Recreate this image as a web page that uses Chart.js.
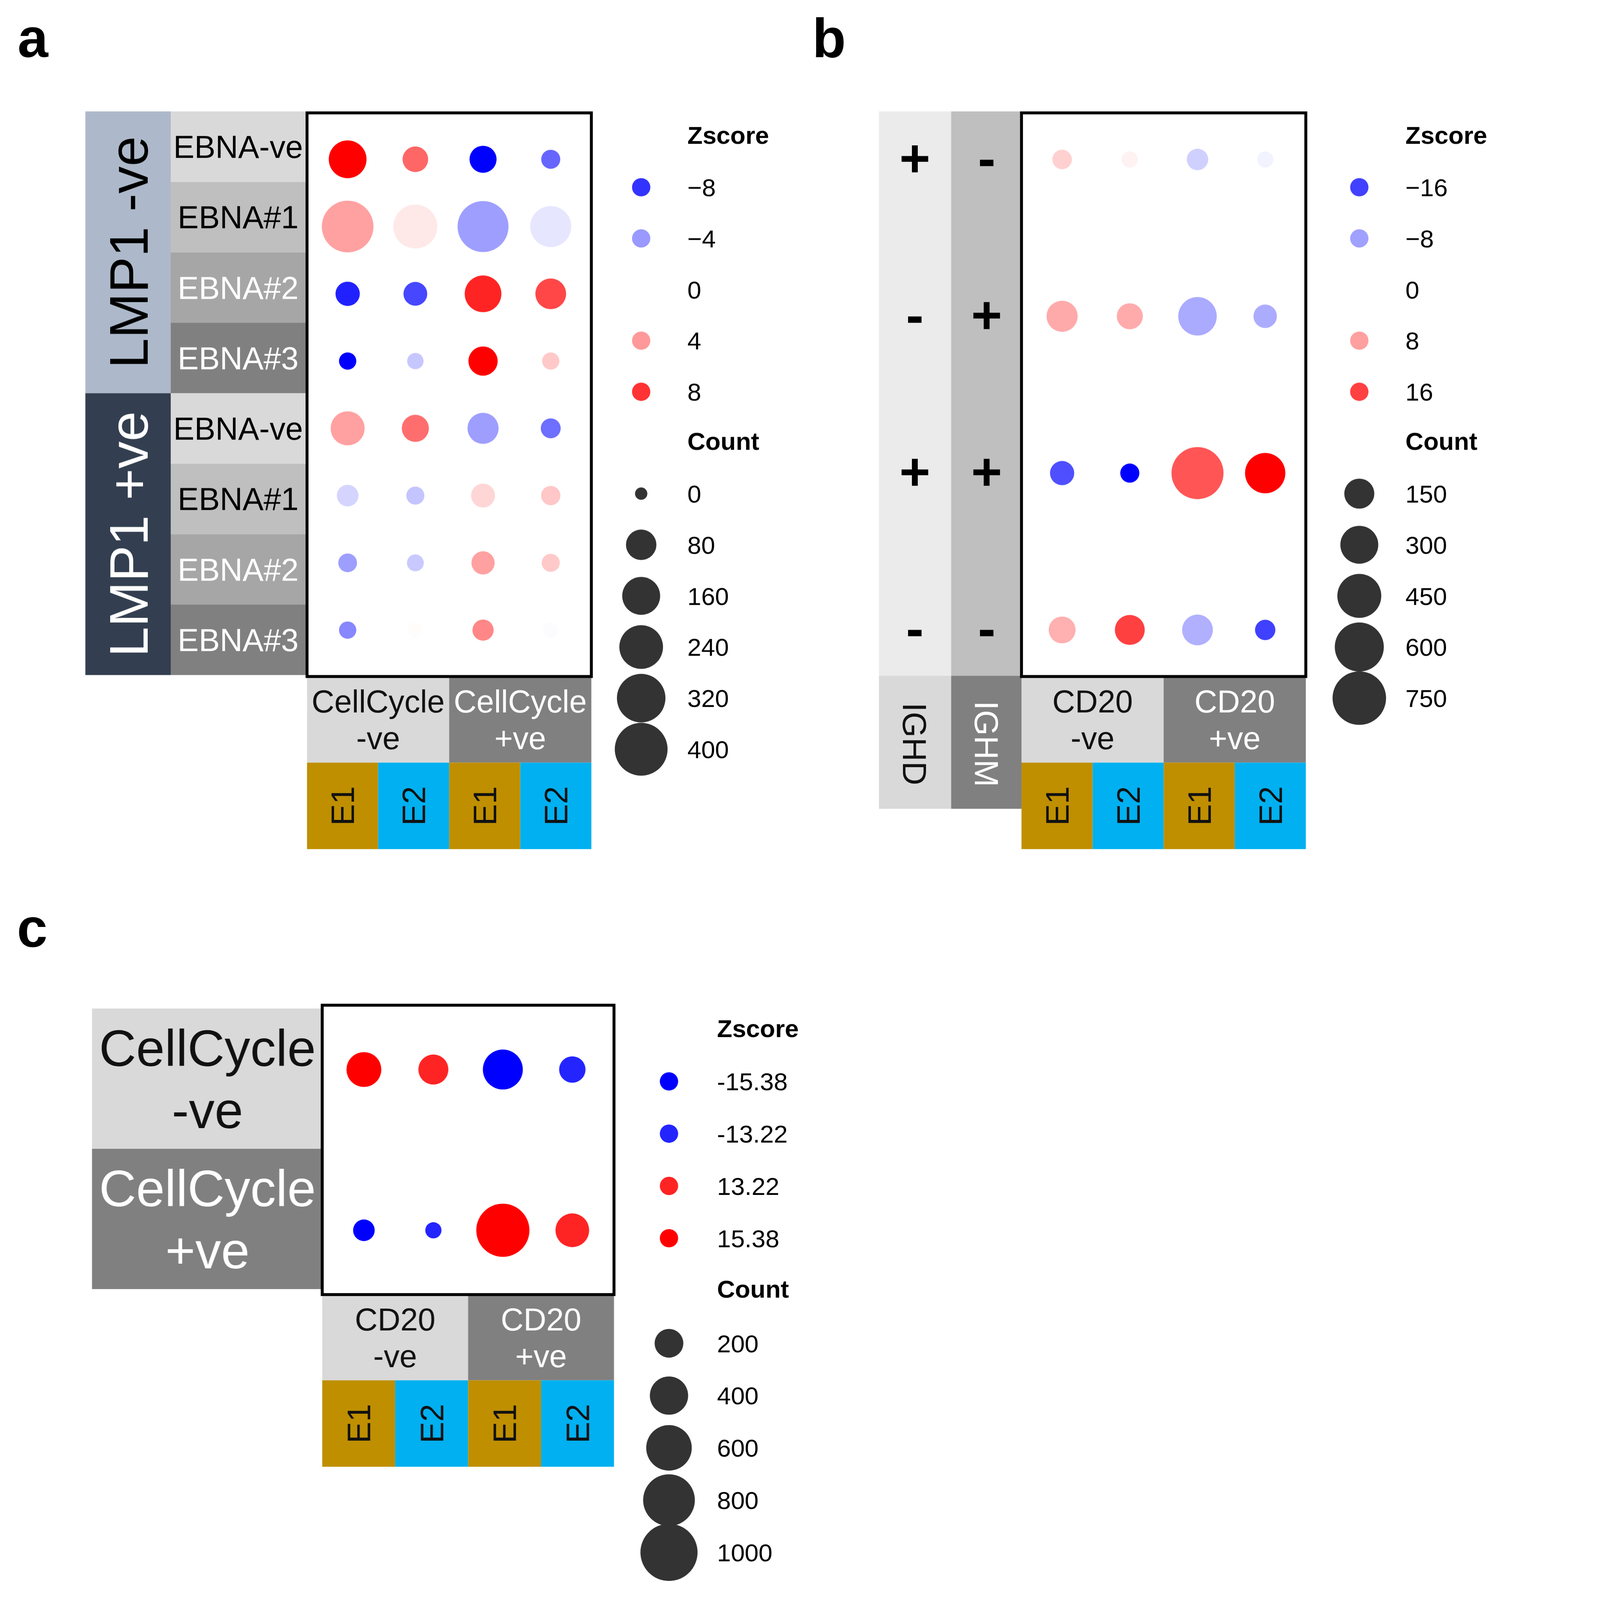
<!DOCTYPE html>
<html>
<head>
<meta charset="utf-8">
<script src="https://cdn.jsdelivr.net/npm/chart.js@4.4.0/dist/chart.umd.min.js"></script>
<style>
html, body { margin: 0; padding: 0; background: #fff; overflow: hidden; }
body { position: relative; width: 4095px; height: 4356px; }
canvas { position: absolute; }
</style>
</head>
<body>
<canvas id="chartA"></canvas>
<canvas id="chartB"></canvas>
<canvas id="chartC"></canvas>
<script>
// ---- panel a data ----
const aGroups = ['LMP1 -ve', 'LMP1 +ve'];
const aRows = ['EBNA-ve', 'EBNA#1', 'EBNA#2', 'EBNA#3', 'EBNA-ve', 'EBNA#1', 'EBNA#2', 'EBNA#3'];
const aColGroups = [['CellCycle', '-ve'], ['CellCycle', '+ve']];
const aCols = ['E1', 'E2', 'E1', 'E2'];
const aZscore = [
    [10.0, 6.0, -10.0, -6.0],
    [3.7, 0.9, -3.8, -1.0],
    [-8.7, -7.2, 8.6, 7.2],
    [-10.0, -2.2, 10.0, 2.1],
    [3.7, 5.7, -3.8, -5.7],
    [-1.7, -2.3, 1.6, 2.2],
    [-3.8, -2.1, 3.7, 2.1],
    [-4.7, 0.1, 4.7, -0.1]
];
const aCount = [
    [158, 43, 53, 11],
    [378, 244, 364, 201],
    [35, 32, 145, 83],
    [6, 4, 70, 6],
    [115, 53, 86, 14],
    [21, 8, 33, 12],
    [10, 5, 29, 8],
    [6, 2, 19, 2]
];
const aZBreaks = [-8, -4, 0, 4, 8];
const aZLabels = ['\u22128', '\u22124', '0', '4', '8'];
const aCountBreaks = [0, 80, 160, 240, 320, 400];

// ---- panel b data ----
const bIGHD = ['+', '-', '+', '-'];
const bIGHM = ['-', '+', '+', '-'];
const bColGroups = [['CD20', '-ve'], ['CD20', '+ve']];
const bCols = ['E1', 'E2', 'E1', 'E2'];
const bZscore = [
    [4.0, 1.1, -4.0, -1.0],
    [7.2, 7.1, -7.2, -7.0],
    [-14.8, -21.5, 14.3, 21.5],
    [6.7, 16.1, -6.7, -16.1]
];
const bCount = [
    [30, 11, 45, 11],
    [168, 93, 313, 64],
    [72, 27, 698, 356],
    [105, 148, 162, 36]
];
const bZBreaks = [-16, -8, 0, 8, 16];
const bZLabels = ['\u221216', '\u22128', '0', '8', '16'];
const bCountBreaks = [150, 300, 450, 600, 750];

// ---- panel c data ----
const cRows = [['CellCycle', '-ve'], ['CellCycle', '+ve']];
const cColGroups = [['CD20', '-ve'], ['CD20', '+ve']];
const cCols = ['E1', 'E2', 'E1', 'E2'];
const cZscore = [
    [15.38, 13.22, -15.38, -13.22],
    [-15.38, -13.22, 15.38, 13.22]
];
const cCount = [
    [320, 223, 443, 161],
    [95, 41, 851, 296]
];
const cZBreaks = [-15.38, -13.22, 13.22, 15.38];
const cZLabels = ['-15.38', '-13.22', '13.22', '15.38'];
const cCountBreaks = [200, 400, 600, 800, 1000];

// ---- styles ----
const FONT = '"Liberation Sans", Arial, Helvetica, sans-serif';
const INK = '#111111';
const groupFill = ['#d9d9d9', '#808080'];
const groupInk = [INK, '#ffffff'];
const eFill = ['#bf8f00', '#00b0f0'];
const rowFill = ['#d9d9d9', '#bfbfbf', '#a6a6a6', '#808080'];
const rowInk = ['#000000', '#000000', '#ffffff', '#ffffff'];
const lmpFill = ['#adb9ca', '#333f50'];
const lmpInk = ['#000000', '#ffffff'];

// layout is in 4095-wide design units; the photographed area is ~3840 css px wide
const S = 3840 / 4095;

function zColor(z, lim) {
    const t = Math.max(-1, Math.min(1, z / lim));
    if (t < 0) {
        const c = Math.round(255 * (1 + t));
        return `rgb(${c},${c},255)`;
    }
    const c = Math.round(255 * (1 - t));
    return `rgb(255,${c},${c})`;
}

function rect(ctx, x, y, w, h, fill) {
    ctx.fillStyle = fill;
    ctx.fillRect(x, y, w, h);
}

// text whose cap height is centred on (cx, cy)
function textAt(ctx, txt, cx, cy, size, color, opt = {}) {
    ctx.save();
    ctx.font = (opt.bold ? 'bold ' : '') + size + 'px ' + FONT;
    ctx.fillStyle = color;
    ctx.textAlign = opt.align || 'center';
    ctx.textBaseline = 'alphabetic';
    ctx.translate(cx, cy);
    if (opt.rot) ctx.rotate(opt.rot * Math.PI / 180);
    ctx.fillText(txt, 0, 0.716 * size / 2);
    ctx.restore();
}

function linesAt(ctx, lines, cx, cy, size, gap, color) {
    const n = lines.length;
    lines.forEach((ln, i) => textAt(ctx, ln, cx, cy + (i - (n - 1) / 2) * gap, size, color));
}

function drawBottom(ctx, chart, P, groups, cols, y0, y1, y2) {
    const sx = chart.scales.x;
    const xs = [0.4, 1.45, 2.5, 3.55, 4.6].map(v => sx.getPixelForValue(v) + P.ox);
    groups.forEach((g, k) => {
        const xa = xs[2 * k], xb = xs[2 * k + 2];
        rect(ctx, xa, y0, xb - xa, y1 - y0, groupFill[k]);
        linesAt(ctx, g, (xa + xb) / 2, (y0 + y1) / 2, 86, 100, groupInk[k]);
    });
    cols.forEach((c, j) => {
        rect(ctx, xs[j], y1, xs[j + 1] - xs[j], y2 - y1, eFill[j % 2]);
        textAt(ctx, c, (xs[j] + xs[j + 1]) / 2, (y1 + y2) / 2, 88, INK, {rot: -90});
    });
}

function drawLegend(ctx, P) {
    const L = P.legend;
    textAt(ctx, 'Zscore', L.textX, L.zTitle, 68, '#000', {bold: true, align: 'left'});
    P.zBreaks.forEach((b, i) => {
        const y = L.zY0 + i * L.step;
        ctx.fillStyle = zColor(b, P.zLim);
        ctx.beginPath();
        ctx.arc(L.dotX, y, 25, 0, Math.PI * 2);
        ctx.fill();
        textAt(ctx, P.zLabels[i], L.textX, y, 68, '#000', {align: 'left'});
    });
    textAt(ctx, 'Count', L.textX, L.cTitle, 68, '#000', {bold: true, align: 'left'});
    P.countBreaks.forEach((b, i) => {
        const y = L.cY0 + i * L.step;
        ctx.fillStyle = '#333333';
        ctx.beginPath();
        ctx.arc(L.dotX, y, P.size(b) / 2, 0, Math.PI * 2);
        ctx.fill();
        textAt(ctx, String(b), L.textX, y, 68, '#000', {align: 'left'});
    });
}

function buildChart(id, P) {
    const cv = document.getElementById(id);
    cv.width = P.w;
    cv.height = P.h;
    cv.style.left = (P.ox * S) + 'px';
    cv.style.top = (P.oy * S) + 'px';
    cv.style.width = (P.w * S) + 'px';
    cv.style.height = (P.h * S) + 'px';

    const pts = [];
    const colors = [];
    P.z.forEach((row, i) => row.forEach((z, j) => {
        pts.push({x: j + 1, y: i + 1, r: P.size(P.count[i][j]) / 2});
        colors.push(zColor(z, P.zLim));
    }));

    return new Chart(cv, {
        type: 'bubble',
        data: {
            datasets: [{
                data: pts,
                backgroundColor: colors,
                borderWidth: 0,
                hoverRadius: 0,
                hoverBorderWidth: 0
            }]
        },
        options: {
            responsive: false,
            animation: false,
            devicePixelRatio: S,
            events: [],
            layout: {
                padding: {
                    left: P.box.l - P.ox,
                    top: P.box.t - P.oy,
                    right: P.ox + P.w - P.box.r,
                    bottom: P.oy + P.h - P.box.b
                }
            },
            scales: {
                x: {type: 'linear', min: 0.4, max: 4.6, display: false},
                y: {type: 'linear', min: P.yMin, max: P.yMax, reverse: true, display: false}
            },
            plugins: {legend: {display: false}, tooltip: {enabled: false}}
        },
        plugins: [{
            id: 'decor',
            afterDraw(chart) {
                const ctx = chart.ctx;
                const a = chart.chartArea;
                ctx.save();
                ctx.translate(-P.ox, -P.oy);
                P.decor(ctx, chart);
                drawLegend(ctx, P);
                textAt(ctx, P.tag, P.tagX, P.tagY, 150, '#000', {bold: true, align: 'left'});
                ctx.lineWidth = 8;
                ctx.strokeStyle = '#000';
                ctx.strokeRect(a.left + P.ox, a.top + P.oy, a.right - a.left, a.bottom - a.top);
                ctx.restore();
            }
        }]
    });
}

// ---- panel a ----
const panelA = {
    ox: 0, oy: 0, w: 2200, h: 2380,
    box: {l: 838, t: 308, r: 1614, b: 1846},
    yMin: 0.31, yMax: 8.69,
    z: aZscore, count: aCount, zLim: 10,
    zBreaks: aZBreaks, zLabels: aZLabels, countBreaks: aCountBreaks,
    size: v => 33.7 + 5.52 * Math.sqrt(v),
    tag: 'a', tagX: 48, tagY: 102,
    legend: {dotX: 1750, textX: 1876, zTitle: 368, zY0: 511, step: 139.5, cTitle: 1203, cY0: 1347},
    decor(ctx, chart) {
        const P = panelA;
        const top = P.box.t - 4;
        const bandH = (P.box.b - P.box.t) / 8;
        aGroups.forEach((g, k) => {
            const y0 = top + k * 4 * bandH;
            rect(ctx, 233, y0, 233, 4 * bandH, lmpFill[k]);
            textAt(ctx, g, 350, y0 + 2 * bandH, 148, lmpInk[k], {rot: -90});
        });
        aRows.forEach((lab, i) => {
            const y0 = top + i * bandH;
            rect(ctx, 466, y0, P.box.l - 466, bandH, rowFill[i % 4]);
            textAt(ctx, lab, 650, y0 + bandH / 2, 86, rowInk[i % 4]);
        });
        drawBottom(ctx, chart, P, aColGroups, aCols, 1846, 2081, 2317);
    }
};

// ---- panel b ----
const panelB = {
    ox: 2200, oy: 0, w: 1895, h: 2380,
    box: {l: 2788, t: 308, r: 3564, b: 1846},
    yMin: 0.703, yMax: 4.297,
    z: bZscore, count: bCount, zLim: 21.5,
    zBreaks: bZBreaks, zLabels: bZLabels, countBreaks: bCountBreaks,
    size: v => 30.2 + 4.23 * Math.sqrt(v),
    tag: 'b', tagX: 2217, tagY: 102,
    legend: {dotX: 3710, textX: 3836, zTitle: 368, zY0: 511, step: 139.5, cTitle: 1203, cY0: 1347},
    decor(ctx, chart) {
        const P = panelB;
        const sy = chart.scales.y;
        rect(ctx, 2399, 304, 197, 1540, '#ebebeb');
        rect(ctx, 2596, 304, 194, 1540, '#bfbfbf');
        rect(ctx, 2399, 1844, 197, 363, '#d9d9d9');
        rect(ctx, 2596, 1844, 194, 363, '#808080');
        const signs = [bIGHD, bIGHM];
        const sx = [2497, 2693];
        signs.forEach((col, k) => col.forEach((s, i) => {
            const y = sy.getPixelForValue(i + 1) + P.oy;
            ctx.save();
            ctx.font = 'bold 145px ' + FONT;
            ctx.fillStyle = '#000';
            ctx.textAlign = 'center';
            ctx.textBaseline = 'alphabetic';
            ctx.fillText(s, sx[k], y + 0.32 * 145);
            ctx.restore();
        }));
        textAt(ctx, 'IGHD', 2497, 2030, 90, INK, {rot: 90});
        textAt(ctx, 'IGHM', 2693, 2030, 90, '#ffffff', {rot: 90});
        drawBottom(ctx, chart, P, bColGroups, bCols, 1846, 2081, 2317);
    }
};

// ---- panel c ----
const panelC = {
    ox: 0, oy: 2380, w: 2300, h: 1976,
    box: {l: 879, t: 2744, r: 1675, b: 3534},
    yMin: 0.6, yMax: 2.4,
    z: cZscore, count: cCount, zLim: 15.38,
    zBreaks: cZBreaks, zLabels: cZLabels, countBreaks: cCountBreaks,
    size: v => 15.8 + 4.43 * Math.sqrt(v),
    tag: 'c', tagX: 46, tagY: 2531,
    legend: {dotX: 1825, textX: 1956, zTitle: 2807, zY0: 2952, step: 142.7, cTitle: 3518, cY0: 3667},
    decor(ctx, chart) {
        const P = panelC;
        const top = P.box.t + 9;
        const bot = P.box.b - 15;
        const hh = (bot - top) / 2;
        cRows.forEach((lines, k) => {
            const y0 = top + k * hh;
            rect(ctx, 251, y0, P.box.l - 251, hh, groupFill[k]);
            linesAt(ctx, lines, 566, y0 + hh / 2, 140, 169, groupInk[k]);
        });
        drawBottom(ctx, chart, P, cColGroups, cCols, 3534, 3768, 4004);
    }
};

buildChart('chartA', panelA);
buildChart('chartB', panelB);
buildChart('chartC', panelC);
</script>
</body>
</html>
